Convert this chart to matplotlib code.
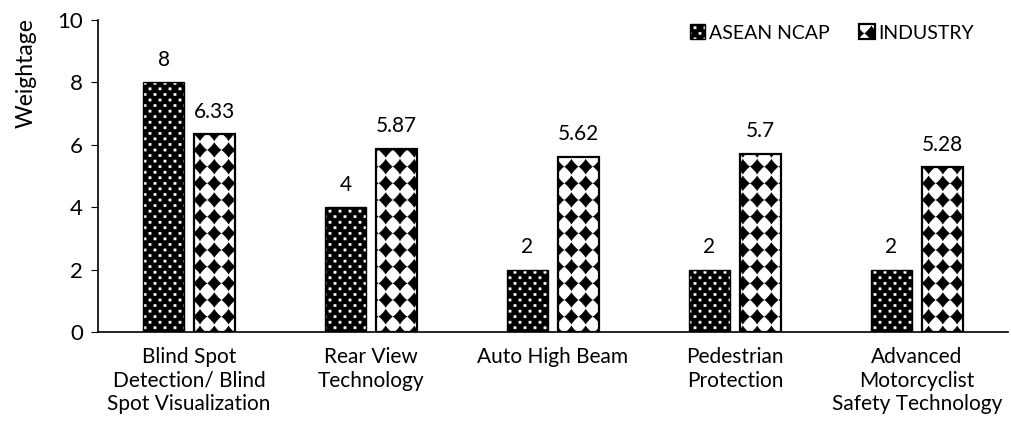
import numpy as np
import matplotlib
matplotlib.use("Agg")
import matplotlib.pyplot as plt
import matplotlib.hatch as mhatch
from matplotlib.path import Path

categories = [
    "Blind Spot\nDetection/ Blind\nSpot Visualization",
    "Rear View\nTechnology",
    "Auto High Beam",
    "Pedestrian\nProtection",
    "Advanced\nMotorcyclist\nSafety Technology",
]
asean_ncap = [8, 4, 2, 2, 2]
industry = [6.33, 5.87, 5.62, 5.7, 5.28]
value_labels_asean = ["8", "4", "2", "2", "2"]
value_labels_industry = ["6.33", "5.87", "5.62", "5.7", "5.28"]


# lattice fills: small shapes repeated over the 100px hatch cell
class LatticeHatch(mhatch.HatchPatternBase):
    char = None
    ncols = 1
    nrows = 1
    stagger = False
    shape = np.zeros((4, 2))

    def __init__(self, hatch, density):
        n = hatch.count(self.char)
        self.centers = self._centers() if n else []
        self.num_vertices = len(self.centers) * (len(self.shape) + 1)

    def _centers(self):
        pts = []
        dx, dy = 1.0 / self.ncols, 1.0 / self.nrows
        for r in range(self.nrows + 1):
            if self.stagger and r % 2:
                xs = np.arange(self.ncols) * dx + dx / 2
            else:
                xs = np.arange(self.ncols + 1) * dx
            for x in xs:
                pts.append((x, r * dy))
        return pts

    def set_vertices_and_codes(self, vertices, codes):
        k = len(self.shape) + 1
        for i, (cx, cy) in enumerate(self.centers):
            v = self.shape + (cx, cy)
            vertices[i * k:i * k + k - 1] = v
            vertices[i * k + k - 1] = v[0]
            codes[i * k] = Path.MOVETO
            codes[i * k + 1:i * k + k - 1] = Path.LINETO
            codes[i * k + k - 1] = Path.CLOSEPOLY


def square(half):
    h = half / 100.0
    return np.array([[-h, -h], [h, -h], [h, h], [-h, h]])


def star(rx, ry, p=0.85, n=48):
    t = np.linspace(0, 2 * np.pi, n, endpoint=False)
    c, s = np.cos(t), np.sin(t)
    x = np.sign(c) * np.abs(c) ** (2 / p) * rx / 100.0
    y = np.sign(s) * np.abs(s) ** (2 / p) * ry / 100.0
    return np.column_stack([x, y])


class DotLattice(LatticeHatch):
    char = "."
    ncols = 10
    nrows = 18
    stagger = True
    shape = square(1.1)


class DiamondLattice(LatticeHatch):
    char = "o"
    ncols = 7
    nrows = 6
    shape = star(6.6, 7.2, p=0.9)


mhatch._hatch_types = [DotLattice, DiamondLattice]

plt.rcParams["font.family"] = ["Lato", "DejaVu Sans"]
plt.rcParams["hatch.linewidth"] = 0.4

fig = plt.figure(figsize=(10.11, 4.34), dpi=100)
ax = fig.add_axes([0.097, 0.235, 0.9, 0.719])

x = np.arange(len(categories))
w = 0.225
off = 0.14

a_fill = ax.bar(x - off, asean_ncap, w, color="black", edgecolor="white",
                hatch=".", linewidth=0)
a_edge = ax.bar(x - off, asean_ncap, w, fill=False, edgecolor="black",
                linewidth=1.0)
ind = ax.bar(x + off, industry, w, color="white", edgecolor="black",
             hatch="o", linewidth=1.6)

for xi, v, s in zip(x - off, asean_ncap, value_labels_asean):
    ax.annotate(s, (xi, v), xytext=(0, 12), textcoords="offset points",
                ha="center", va="baseline", fontsize=15)
for xi, v, s in zip(x + off, industry, value_labels_industry):
    ax.annotate(s, (xi, v), xytext=(0, 12), textcoords="offset points",
                ha="center", va="baseline", fontsize=15)

ax.set_xlim(-0.5, len(categories) - 0.5)
ax.set_ylim(0, 10)
ax.set_yticks(np.arange(0, 11, 2))
ax.set_xticks(x)
ax.set_xticklabels(categories, fontsize=15, linespacing=1.22)
ax.tick_params(axis="x", length=0, pad=11)
ax.tick_params(axis="y", direction="out", length=5, labelsize=16, pad=6)
for sp in ["top", "right"]:
    ax.spines[sp].set_visible(False)
ax.spines["left"].set_linewidth(1.2)
ax.spines["bottom"].set_linewidth(1.2)

ax.set_ylabel("Weightage", fontsize=16.5)
ax.yaxis.set_label_coords(-0.068, 0.83)

ax.legend([(a_fill, a_edge), ind], ["ASEAN NCAP", "INDUSTRY"], ncol=2,
          frameon=False, fontsize=14, handlelength=0.8, handleheight=0.8,
          handletextpad=0.2, columnspacing=1.5,
          loc="upper right", bbox_to_anchor=(0.981, 0.984),
          bbox_transform=fig.transFigure)

fig.savefig("out.png", dpi=100)
